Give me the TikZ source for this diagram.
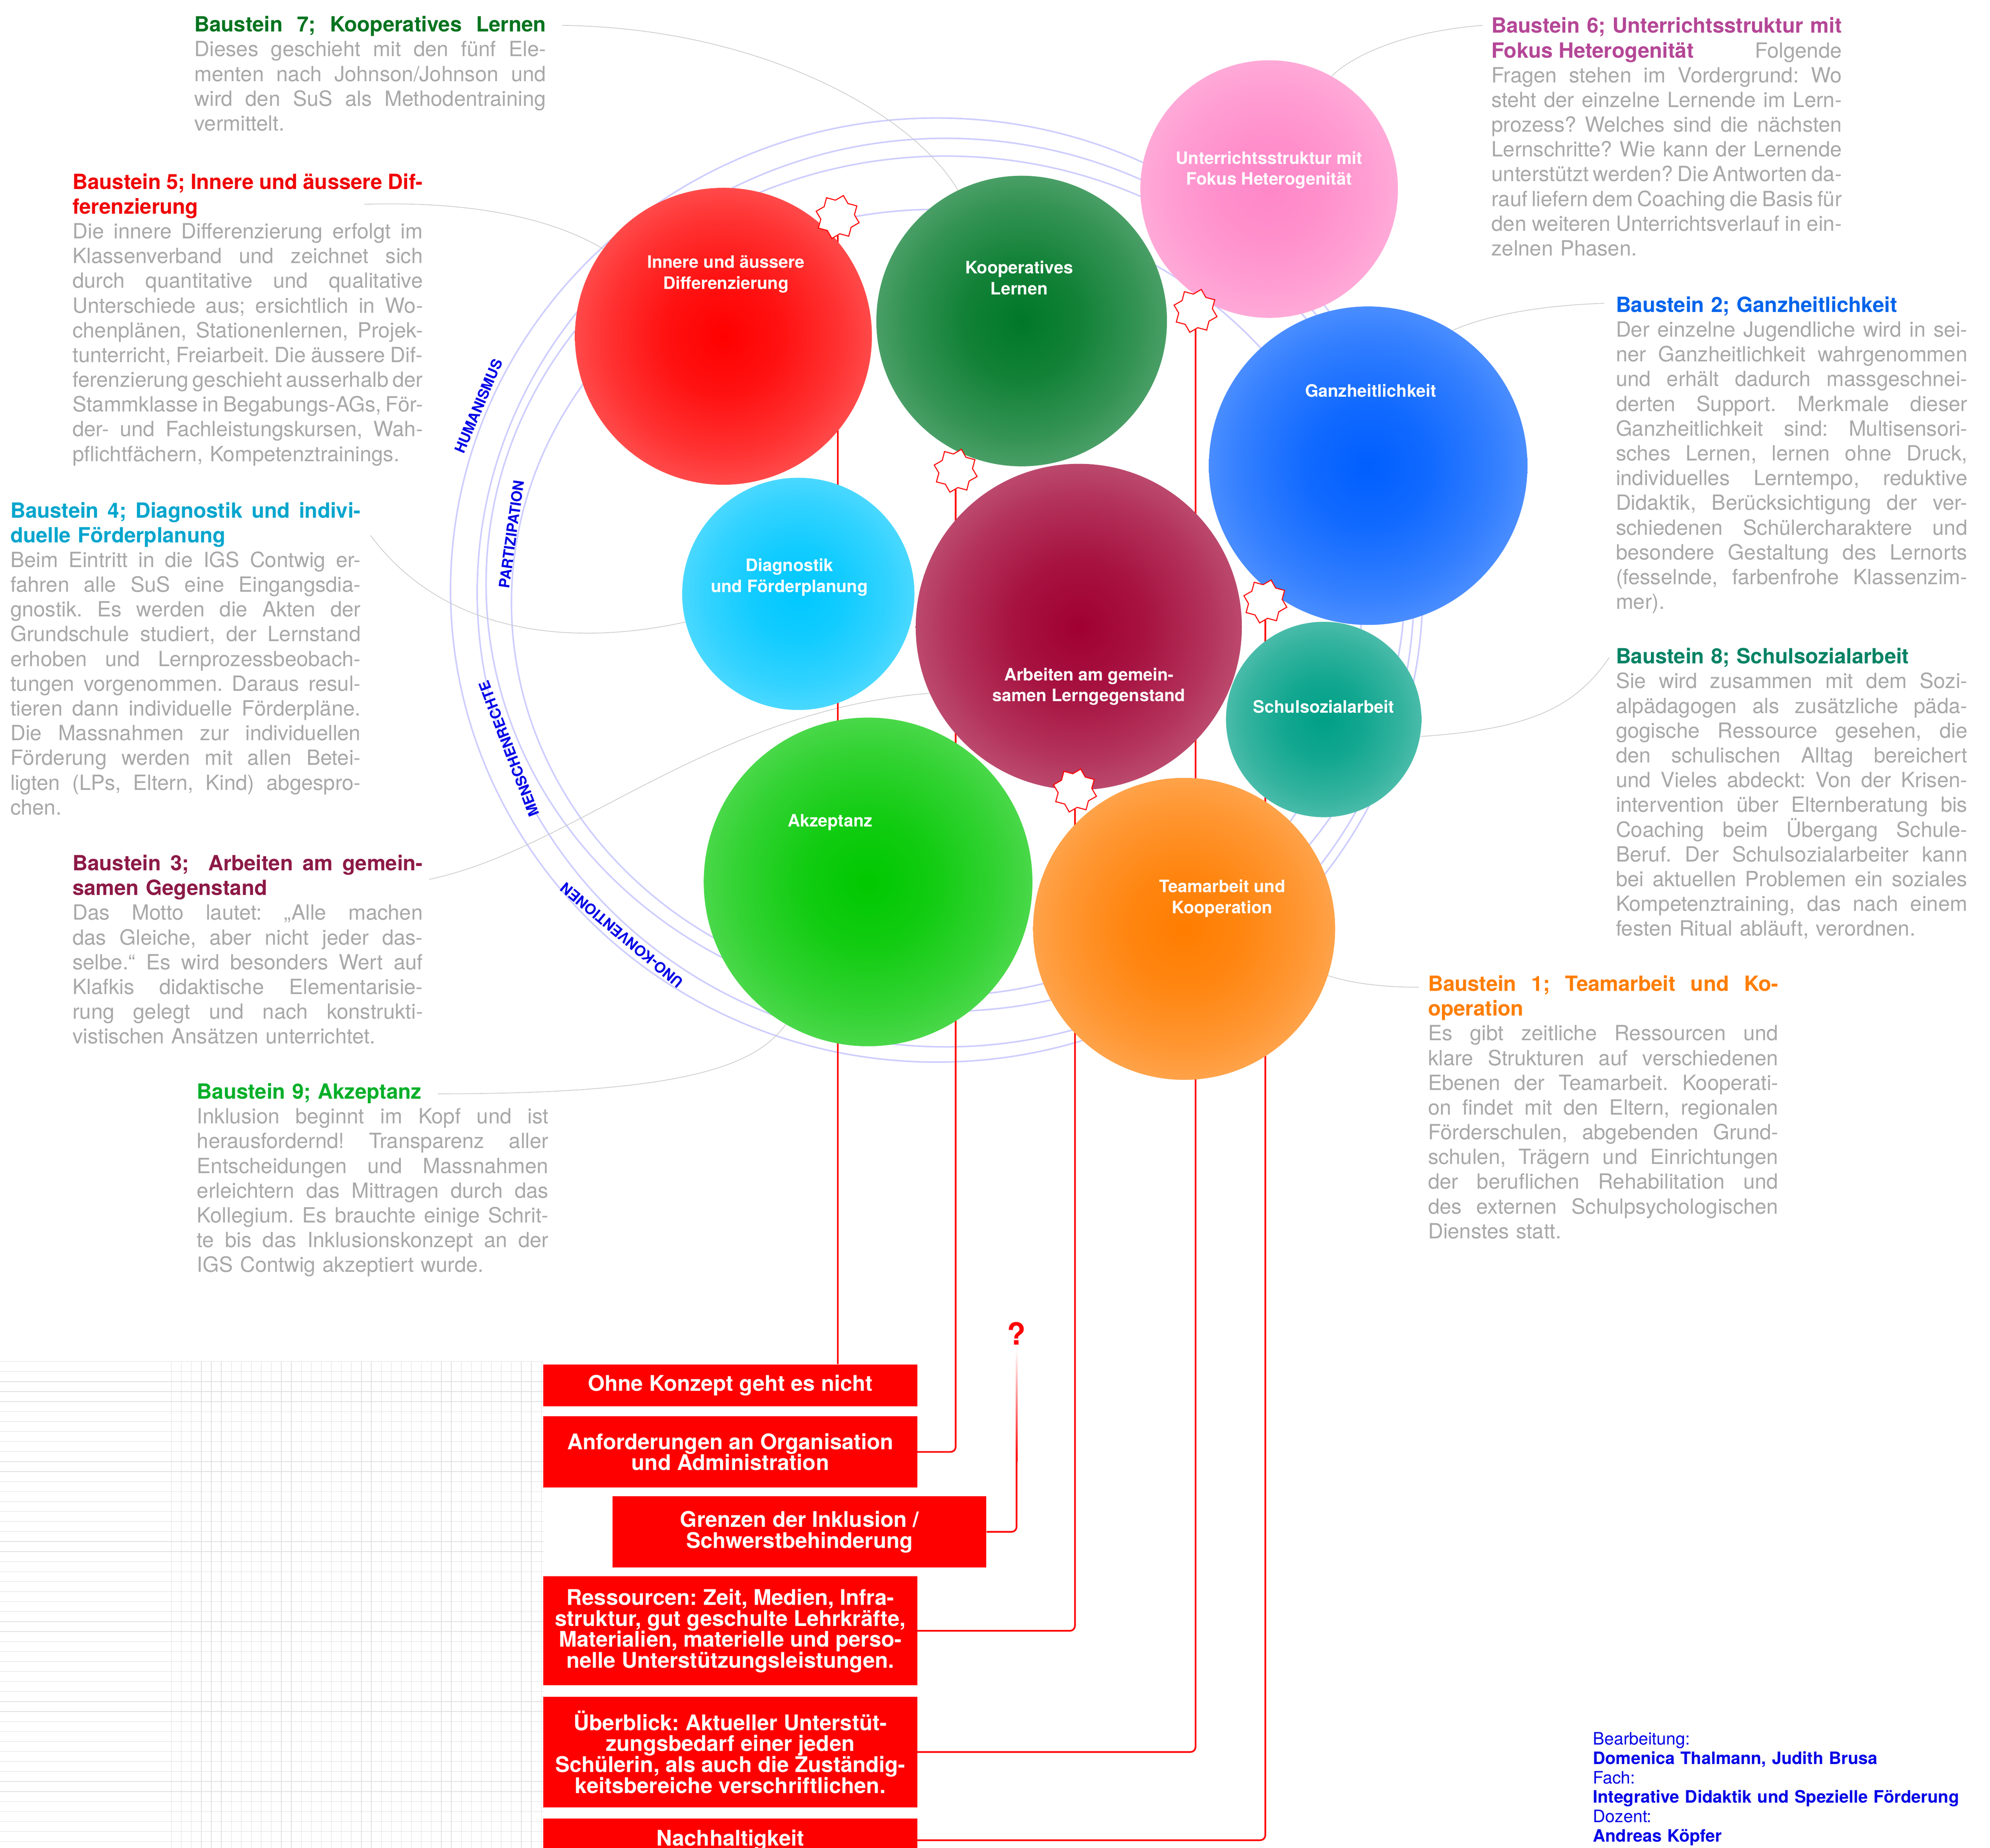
\documentclass[tikz,border=0pt]{standalone}
\usepackage{fontspec}
\setmainfont{TeX Gyre Heros}
\usepackage{tikz}
\usetikzlibrary{backgrounds,calc,shapes.geometric}
\frenchspacing

\definecolor{txtgrey}{RGB}{168,168,168}
\definecolor{ringblue}{RGB}{205,205,255}
\definecolor{credblue}{RGB}{0,0,230}
\definecolor{boxred}{RGB}{255,0,0}
% Titelfarben
\definecolor{t1}{RGB}{255,125,0}
\definecolor{t2}{RGB}{0,100,235}
\definecolor{t3}{RGB}{140,25,70}
\definecolor{t4}{RGB}{0,165,205}
\definecolor{t5}{RGB}{240,0,0}
\definecolor{t6}{RGB}{180,70,150}
\definecolor{t7}{RGB}{0,115,30}
\definecolor{t8}{RGB}{0,130,100}
\definecolor{t9}{RGB}{0,175,40}
% Kreisfarben
\definecolor{cInner}{RGB}{255,0,0}
\definecolor{cKoop}{RGB}{0,120,40}
\definecolor{cUnter}{RGB}{255,135,200}
\definecolor{cGanz}{RGB}{0,95,255}
\definecolor{cDiag}{RGB}{0,200,255}
\definecolor{cArb}{RGB}{160,0,50}
\definecolor{cSchul}{RGB}{0,160,135}
\definecolor{cAkz}{RGB}{0,200,0}
\definecolor{cTeam}{RGB}{255,125,0}

\colorlet{blobcol}{red}
\pgfdeclareradialshading[blobcol]{blob}{\pgfpoint{0bp}{0bp}}{%
color(0bp)=(blobcol); color(10bp)=(blobcol!93!white); color(20bp)=(blobcol!80!white);
color(28bp)=(blobcol!66!white); color(35bp)=(blobcol!46!white); color(41bp)=(blobcol!27!white);
color(46bp)=(blobcol!10!white); color(50bp)=(white)}

\newcommand{\jl}[1]{\makebox[\linewidth][s]{\spaceskip=0pt\xspaceskip=0pt\relax #1}}
\newcommand{\ttl}[2]{{\bfseries\color{#1}#2}}
\newcommand{\boxfont}{\bfseries\fontsize{17}{16.5}\selectfont\setlength{\lineskiplimit}{-20pt}}

\tikzset{
  blob/.style={circle, inner sep=0pt, shade, shading=blob, /utils/exec={\colorlet{blobcol}{#1}}},
  bloblabel/.style={text=white, align=center, inner sep=0pt, font=\bfseries\fontsize{13.5}{16.5}\selectfont},
  burst/.style={star, star points=8, star point ratio=1.31, shape border rotate=-15, minimum size=35pt,
    inner sep=0pt, draw=red, fill=white, line width=0.8pt},
  ibox/.style={anchor=north west, fill=boxred, text=white, align=center, inner sep=0pt, minimum width=294.5pt, font=\boxfont},
  qmark/.style={text=red, inner sep=0pt, font=\bfseries\fontsize{24}{26}\selectfont},
  redline/.style={draw=red, line width=1.3pt, rounded corners=4pt},
  ring/.style={draw=ringblue, line width=1.2pt},
  ringlabel/.style={text=credblue, inner sep=0pt, font=\bfseries\fontsize{11.5}{13}\selectfont},
  feeler/.style={draw=black!22, line width=0.5pt},
  gridline/.style={draw=black!12, line width=0.4pt},
  block/.style={anchor=base west, inner sep=0pt, align=left, text=txtgrey, font=\fontsize{16.5}{19.5}\selectfont},
  credit/.style={anchor=base west, inner sep=0pt, align=left, text=credblue, text width=330pt, font=\fontsize{13.5}{15.3}\selectfont}
}

\begin{document}
\begin{tikzpicture}[x=1pt, y=-1pt]
\useasboundingbox (0,0) rectangle (1568,1456.3);

% Bausteine als Kreise
\node[blob=cInner, minimum size=234pt] (inner) at (570,265) {};
\node[blob=cKoop, minimum size=229pt] (koop) at (805,253) {};
\node[blob=cUnter, minimum size=203pt] (unter) at (1000,149) {};
\node[blob=cGanz, minimum size=251pt] (ganz) at (1078,367) {};
\node[blob=cDiag, minimum size=183pt] (diag) at (629,468) {};
\node[blob=cArb, minimum size=257pt] (arb) at (850,494) {};
\node[blob=cSchul, minimum size=154pt] (schul) at (1043,567) {};
\node[blob=cAkz, minimum size=259pt] (akz) at (684,695) {};
\node[blob=cTeam, minimum size=238pt] (team) at (933,732) {};

\node[bloblabel] at (572,216) {Innere und äussere\\Differenzierung};
\node[bloblabel] at (803,219) {Kooperatives\\Lernen};
\node[bloblabel] at (1000,134) {Unterrichtsstruktur mit\\Fokus Heterogenität};
\node[bloblabel] at (1080,308) {Ganzheitlichkeit};
\node[bloblabel] at (622,455) {Diagnostik\\und Förderplanung};
\node[bloblabel] at (858,541) {Arbeiten am gemein-\\samen Lerngegenstand};
\node[bloblabel] at (1043,557) {Schulsozialarbeit};
\node[bloblabel] at (654,648) {Akzeptanz};
\node[bloblabel] at (963,708) {Teamarbeit und\\Kooperation};

% Sterne
\node[burst] (s1) at (660,171) {};
\node[burst] (s2) at (753,371) {};
\node[burst] (s3) at (847,623) {};
\node[burst] (s4) at (942,245) {};
\node[burst] (s5) at (997,474) {};

% Kasten unten
\node[ibox, minimum height=33pt] (k1) at (428,1075) {Ohne Konzept geht es nicht};
\node[ibox, minimum height=56pt] (k2) at (428,1116) {Anforderungen an Organisation\\und Administration};
\node[ibox, minimum height=56pt] (k3) at (482.5,1179) {Grenzen der Inklusion /\\Schwerstbehinderung};
\node[ibox, minimum height=86pt] (k4) at (428,1242) {Ressourcen: Zeit, Medien, Infra-\\struktur, gut geschulte Lehrkräfte,\\Materialien, materielle und perso-\\nelle Unterstützungsleistungen.};
\node[ibox, minimum height=87pt] (k5) at (428,1337) {Überblick: Aktueller Unterstüt-\\zungsbedarf einer jeden\\Schülerin, als auch die Zuständig-\\keitsbereiche verschriftlichen.};
\node[ibox, minimum height=34pt] (k6) at (428,1433) {Nachhaltigkeit};
\node[qmark] (qm) at (801,1051) {?};

\begin{scope}[on background layer]
% Raster
\foreach \k in {0,...,49}
  \draw[gridline] (0,1073+7.88*\k) -- (428,1073+7.88*\k);
\foreach \k in {0,...,37}
  \draw[gridline] (135+7.88*\k,1073) -- (135+7.88*\k,1457);
% Ringe
\draw[ring] (738,465) ellipse [x radius=383pt, y radius=372pt];
\draw[ring] (745,467) ellipse [x radius=369pt, y radius=358pt];
\draw[ring] (745,460) ellipse [x radius=362pt, y radius=337pt];
\draw[ring] (738,475) ellipse [x radius=335pt, y radius=310pt];
% graue Verbindungen
\coordinate (c7) at (443,20);
\coordinate (c5) at (287,161);
\coordinate (c4) at (292,422);
\coordinate (c3) at (338,693);
\coordinate (c9) at (345,862);
\coordinate (c6) at (1168,20);
\coordinate (c2) at (1264,239);
\coordinate (c8) at (1268,518);
\coordinate (c1) at (1118,778);
\draw[feeler] (c7) .. controls (600,22) and (720,90) .. (koop.116);
\draw[feeler] (c5) .. controls (380,158) and (440,175) .. (inner.144);
\draw[feeler] (c4) .. controls (350,500) and (450,510) .. (diag.194);
\draw[feeler] (c3) .. controls (450,670) and (560,560) .. (arb.204);
\draw[feeler] (c9) .. controls (540,862) and (595,840) .. (akz.240);
\draw[feeler] (c6) .. controls (1104,25) and (1064,45) .. (unter.61);
\draw[feeler] (c2) .. controls (1205,241) and (1165,251) .. (ganz.58);
\draw[feeler] (c8) .. controls (1240,560) and (1200,575) .. (schul.-10);
\draw[feeler] (c1) .. controls (1090,778) and (1065,775) .. (team.-18);
% rote Linien
\draw[redline] (s1.south) -- (s1.south |- k1.north);
\draw[redline] (k2.east) -| (s2.south);
\coordinate (qf) at ($(qm.south)+(0,92)$);
\draw[redline] (k3.east) -| (qf);
\shade[top color=white, bottom color=red] ($(qm.south)+(-0.65,3)$) rectangle ($(qf)+(0.65,0)$);
\draw[redline] (k4.east) -| (s3.south);
\draw[redline] (k5.east) -| (s4.south);
\draw[redline] (k6.east) -| (s5.south);
\end{scope}

% Ringbeschriftung
\node[ringlabel, rotate=67] (hum) at (377,320) {HUMANISMUS};
\node[ringlabel, rotate=82] (part) at (403,421) {PARTIZIPATION};
\node[ringlabel, rotate=111] (mensch) at (401,590) {MENSCHENRECHTE};
\node[ringlabel, rotate=140] (uno) at (490,737) {UNO-KONVENTIONEN};

% Texte
\node[block, text width=277pt] (b7) at (153,25) {%
\jl{\ttl{t7}{Baustein 7; Kooperatives Lernen}}\\
\jl{Dieses geschieht mit den fünf Ele-}\\
\jl{menten nach Johnson/Johnson und}\\
\jl{wird den SuS als Methodentraining}\\
vermittelt.};

\node[block, text width=276pt] (b5) at (57,149) {%
\jl{\ttl{t5}{Baustein 5; Innere und äussere Dif-}}\\
\ttl{t5}{ferenzierung}\\
\jl{Die innere Differenzierung erfolgt im}\\
\jl{Klassenverband und zeichnet sich}\\
\jl{durch quantitative und qualitative}\\
\jl{Unterschiede aus; ersichtlich in Wo-}\\
\jl{chenplänen, Stationenlernen, Projek-}\\
\jl{tunterricht, Freiarbeit. Die äussere Dif-}\\
\jl{ferenzierung geschieht ausserhalb der}\\
\jl{Stammklasse in Begabungs-AGs, För-}\\
\jl{der- und Fachleistungskursen, Wah-}\\
pflichtfächern, Kompetenztrainings.};

\node[block, text width=276pt] (b4) at (8,408) {%
\jl{\ttl{t4}{Baustein 4; Diagnostik und indivi-}}\\
\ttl{t4}{duelle Förderplanung}\\
\jl{Beim Eintritt in die IGS Contwig er-}\\
\jl{fahren alle SuS eine Eingangsdia-}\\
\jl{gnostik. Es werden die Akten der}\\
\jl{Grundschule studiert, der Lernstand}\\
\jl{erhoben und Lernprozessbeobach-}\\
\jl{tungen vorgenommen. Daraus resul-}\\
\jl{tieren dann individuelle Förderpläne.}\\
\jl{Die Massnahmen zur individuellen}\\
\jl{Förderung werden mit allen Betei-}\\
\jl{ligten (LPs, Eltern, Kind) abgespro-}\\
chen.};

\node[block, text width=276pt] (b3) at (57,686) {%
\jl{\ttl{t3}{Baustein 3;\ \ Arbeiten am gemein-}}\\
\ttl{t3}{samen Gegenstand}\\
\jl{Das Motto lautet: „Alle machen}\\
\jl{das Gleiche, aber nicht jeder das-}\\
\jl{selbe.“ Es wird besonders Wert auf}\\
\jl{Klafkis didaktische Elementarisie-}\\
\jl{rung gelegt und nach konstrukti-}\\
vistischen Ansätzen unterrichtet.};

\node[block, text width=277pt] (b9) at (155,866) {%
\ttl{t9}{Baustein 9; Akzeptanz}\\
\jl{Inklusion beginnt im Kopf und ist}\\
\jl{herausfordernd! Transparenz aller}\\
\jl{Entscheidungen und Massnahmen}\\
\jl{erleichtern das Mittragen durch das}\\
\jl{Kollegium. Es brauchte einige Schrit-}\\
\jl{te bis das Inklusionskonzept an der}\\
IGS Contwig akzeptiert wurde.};

\node[block, text width=276pt] (b6) at (1175,26) {%
\jl{\ttl{t6}{Baustein 6; Unterrichtsstruktur mit}}\\
\jl{\ttl{t6}{Fokus Heterogenität}\hfill Folgende}\\
\jl{Fragen stehen im Vordergrund: Wo}\\
\jl{steht der einzelne Lernende im Lern-}\\
\jl{prozess? Welches sind die nächsten}\\
\jl{Lernschritte? Wie kann der Lernende}\\
\jl{unterstützt werden? Die Antworten da-}\\
\jl{rauf liefern dem Coaching die Basis für}\\
\jl{den weiteren Unterrichtsverlauf in ein-}\\
zelnen Phasen.};

\node[block, text width=277pt] (b2) at (1273,246) {%
\ttl{t2}{Baustein 2; Ganzheitlichkeit}\\
\jl{Der einzelne Jugendliche wird in sei-}\\
\jl{ner Ganzheitlichkeit wahrgenommen}\\
\jl{und erhält dadurch massgeschnei-}\\
\jl{derten Support. Merkmale dieser}\\
\jl{Ganzheitlichkeit sind: Multisensori-}\\
\jl{sches Lernen, lernen ohne Druck,}\\
\jl{individuelles Lerntempo, reduktive}\\
\jl{Didaktik, Berücksichtigung der ver-}\\
\jl{schiedenen Schülercharaktere und}\\
\jl{besondere Gestaltung des Lernorts}\\
\jl{(fesselnde, farbenfrohe Klassenzim-}\\
mer).};

\node[block, text width=277pt] (b8) at (1273,523) {%
\ttl{t8}{Baustein 8; Schulsozialarbeit}\\
\jl{Sie wird zusammen mit dem Sozi-}\\
\jl{alpädagogen als zusätzliche päda-}\\
\jl{gogische Ressource gesehen, die}\\
\jl{den schulischen Alltag bereichert}\\
\jl{und Vieles abdeckt: Von der Krisen-}\\
\jl{intervention über Elternberatung bis}\\
\jl{Coaching beim Übergang Schule-}\\
\jl{Beruf. Der Schulsozialarbeiter kann}\\
\jl{bei aktuellen Problemen ein soziales}\\
\jl{Kompetenztraining, das nach einem}\\
festen Ritual abläuft, verordnen.};

\node[block, text width=276pt] (b1) at (1125,781) {%
\jl{\ttl{t1}{Baustein 1; Teamarbeit und Ko-}}\\
\ttl{t1}{operation}\\
\jl{Es gibt zeitliche Ressourcen und}\\
\jl{klare Strukturen auf verschiedenen}\\
\jl{Ebenen der Teamarbeit. Kooperati-}\\
\jl{on findet mit den Eltern, regionalen}\\
\jl{Förderschulen, abgebenden Grund-}\\
\jl{schulen, Trägern und Einrichtungen}\\
\jl{der beruflichen Rehabilitation und}\\
\jl{des externen Schulpsychologischen}\\
Dienstes statt.};

\node[credit] (cred) at (1255,1375) {Bearbeitung:\\
\textbf{Domenica Thalmann, Judith Brusa}\\
Fach:\\
\textbf{Integrative Didaktik und Spezielle Förderung}\\
Dozent:\\
\textbf{Andreas Köpfer}};
\end{tikzpicture}
\end{document}
